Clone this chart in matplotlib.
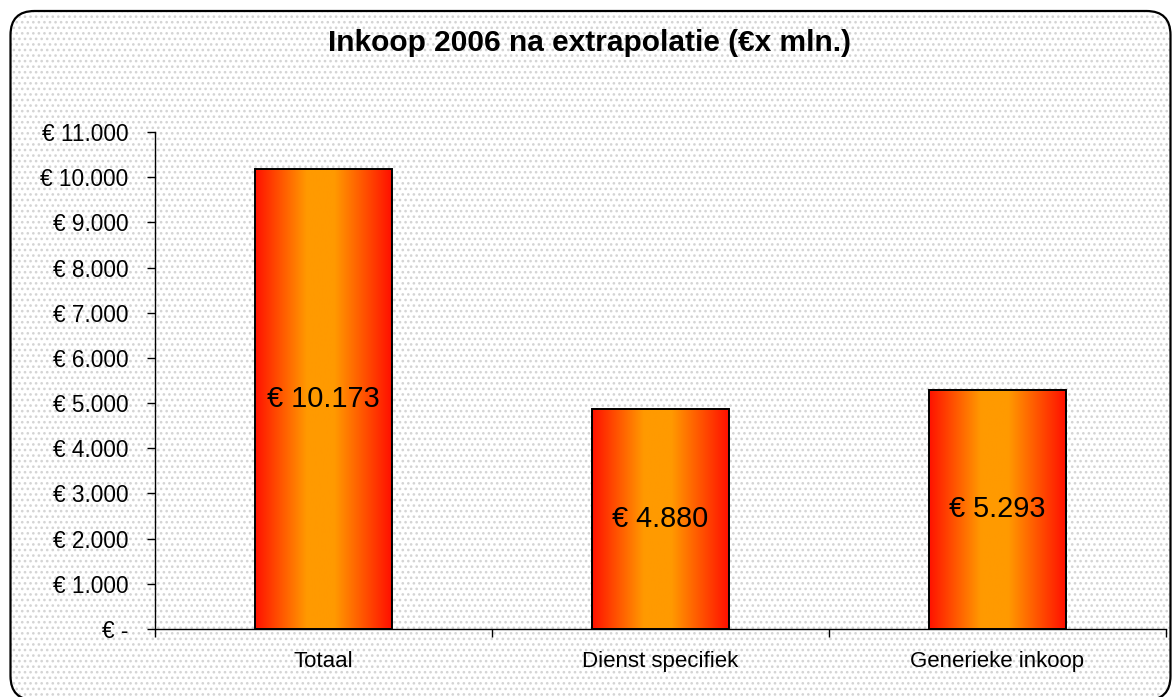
import matplotlib
matplotlib.use("Agg")
import matplotlib.pyplot as plt
import numpy as np
from matplotlib.colors import LinearSegmentedColormap
from matplotlib.patches import FancyBboxPatch
from matplotlib.ticker import FuncFormatter, FixedLocator
from matplotlib.transforms import IdentityTransform

# data
categories = ["Totaal", "Dienst specifiek", "Generieke inkoop"]
values = [10173, 4880, 5293]
title = "Inkoop 2006 na extrapolatie (\u20acx mln.)"


def euro(v):
    if v == 0:
        return "\u20ac -"
    return "\u20ac " + f"{v:,.0f}".replace(",", ".")


plt.rcParams["font.family"] = ["Liberation Sans", "DejaVu Sans"]
plt.rcParams["hatch.linewidth"] = 1.1

fig = plt.figure(figsize=(11.72, 6.97), dpi=100)

# dotted background with rounded border (pixel coords)
box = dict(boxstyle="round,pad=0,rounding_size=24", transform=IdentityTransform())
bg = FancyBboxPatch((10.5, -3), 1160, 689, facecolor="white", edgecolor="#d4d4d4",
                    linewidth=0, hatch="...", zorder=-2, **box)
fig.patches.append(bg)
border = FancyBboxPatch((10.5, -3), 1160, 689, facecolor="none", edgecolor="black",
                        linewidth=1.6, zorder=-1, **box)
fig.patches.append(border)

ax = fig.add_axes([155 / 1172, 68 / 697, 1011 / 1172, 497 / 697])
ax.patch.set_alpha(0)
ax.set_zorder(2)

x = np.arange(len(categories))
bars = ax.bar(x, values, width=0.404, facecolor="none", edgecolor="black",
              linewidth=1.4, zorder=3)

cmap = LinearSegmentedColormap.from_list(
    "bar", [(0, "#ff1200"), (0.38, "#ff9a00"), (0.58, "#ff9a00"), (1, "#ff1000")])
grad = np.linspace(0, 1, 256).reshape(1, -1)
for b in bars:
    x0, w, h = b.get_x(), b.get_width(), b.get_height()
    ax.imshow(grad, cmap=cmap, aspect="auto", extent=(x0, x0 + w, 0, h),
              zorder=2, interpolation="bicubic")

for xi, v in zip(x, values):
    ax.text(xi, v / 2, euro(v), ha="center", va="center", fontsize=20.8, zorder=4)

ax.set_xlim(-0.5, 2.5)
ax.set_ylim(0, 11000)
ax.set_yticks(np.arange(0, 11001, 1000))
ax.yaxis.set_major_formatter(FuncFormatter(lambda v, p: euro(v)))
ax.set_xticks(x)
ax.set_xticklabels(categories)
ax.xaxis.set_minor_locator(FixedLocator([-0.5, 0.5, 1.5, 2.5]))

for s in ["top", "right"]:
    ax.spines[s].set_visible(False)
for s in ["left", "bottom"]:
    ax.spines[s].set_linewidth(1.0)

ax.tick_params(axis="y", direction="out", length=6, width=1, pad=13, labelsize=16.3)
ax.tick_params(axis="x", which="major", length=0, pad=16, labelsize=16)
ax.tick_params(axis="x", which="minor", direction="out", length=6, width=1)

fig.text(589 / 1172, 1 - 43 / 697, title, ha="center", va="center",
         fontsize=21.5, fontweight="bold")

fig.savefig("out.png", dpi=100)
